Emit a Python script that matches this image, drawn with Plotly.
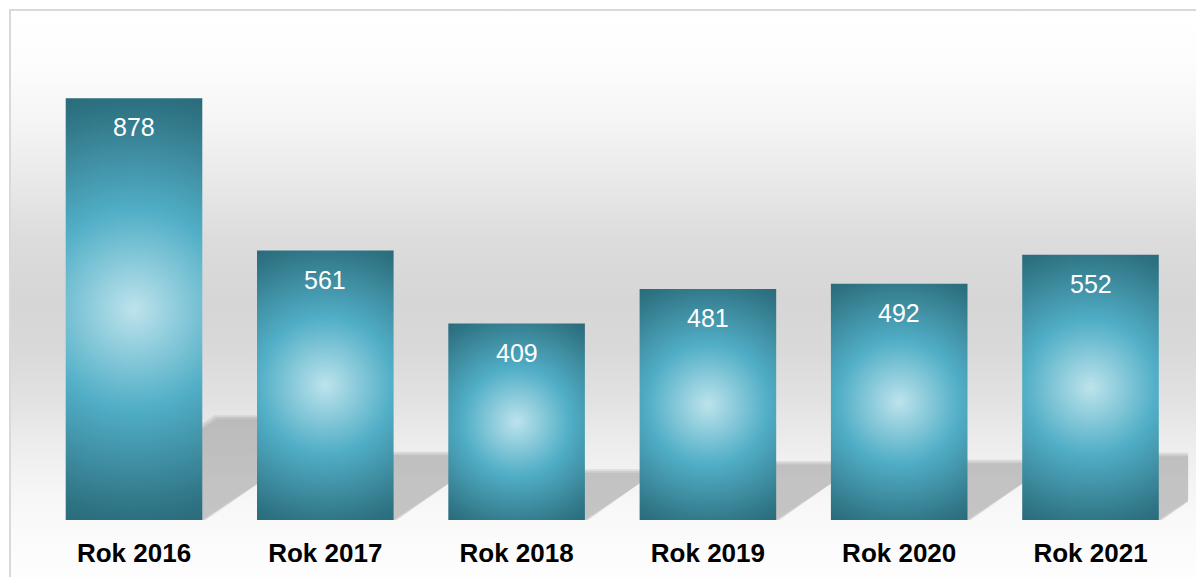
import math
import plotly.graph_objects as go

# ---------------- data ----------------
categories = ["Rok 2016", "Rok 2017", "Rok 2018", "Rok 2019", "Rok 2020", "Rok 2021"]
values = [878, 561, 409, 481, 492, 552]

# ---------------- layout constants (page pixels) ----------------
PAGE_W, PAGE_H = 1204, 577
BODY = 8                        # default page margin around the figure
PL, PT = 11, 11                 # plot area top-left on the page (inside frame)
PLOT_W, PLOT_H = PAGE_W - PL, PAGE_H - PT
W, H = PAGE_W - BODY, PAGE_H - BODY
ML, MT = PL - BODY, PT - BODY
PX_PER_CAT = 191.3              # pixels per category step
PX_PER_UNIT = 0.4803            # pixels per value unit
FIRST_CENTER = 134 - PL         # first category centre from plot left (px)
BASE = 520 - PT                 # value 0 from plot top (px)
BAR_W = 0.714                   # bar width in category units
FONT = "Liberation Sans, Arial, sans-serif"

x0 = -FIRST_CENTER / PX_PER_CAT
x1 = x0 + PLOT_W / PX_PER_CAT
y1 = BASE / PX_PER_UNIT
y0 = y1 - PLOT_H / PX_PER_UNIT
CLIP_X = 5.51                   # right edge of the original plot area

bg_stops = [(11, '#ffffff'), (60, '#fdfdfd'), (120, '#f5f5f5'), (180, '#e9e9e9'),
            (240, '#dcdcdc'), (300, '#d6d6d6'), (350, '#d9d9d9'), (400, '#e2e2e2'),
            (450, '#eeeeee'), (500, '#f7f7f7'), (540, '#fbfbfb'), (577, '#fdfdfd')]
bar_scale = [[0.0, '#bde3ec'], [0.45, '#50aec6'], [0.7, '#3f8ea2'],
             [0.9, '#2f7585'], [1.0, '#2a6b7b']]


def px_x(px):
    return (px - PL) / PLOT_W


def px_y(py):
    return (PAGE_H - py) / PLOT_H


fig = go.Figure()

# background gradient
bg_cs = sorted([[px_y(py), c] for py, c in bg_stops])
bg_cs[0][0] = 0.0
bg_cs[-1][0] = 1.0
fig.add_trace(go.Scatter(
    x=[x0, x1, x1, x0, x0], y=[y0, y0, y1, y1, y0], mode='lines', fill='toself',
    line=dict(width=0, color='rgba(0,0,0,0)'),
    fillgradient=dict(type='vertical', colorscale=bg_cs, start=y0, stop=y1),
    hoverinfo='skip', showlegend=False))


def clip_right(poly, xmax):
    out = []
    n = len(poly)
    for i in range(n):
        a, b = poly[i], poly[(i + 1) % n]
        ain, bin_ = a[0] <= xmax, b[0] <= xmax
        if ain:
            out.append(a)
        if ain != bin_:
            t = (xmax - a[0]) / (b[0] - a[0])
            out.append((xmax, a[1] + t * (b[1] - a[1])))
    return out


# shadows (perspective, blurred with stacked translucent layers)
for i, v in enumerate(values):
    xl, xr = i - BAR_W / 2, i + BAR_W / 2
    hpx = v * PX_PER_UNIT
    dx = 0.36 * hpx / PX_PER_CAT
    dy = 0.24 * v
    for k in (3.5, 1.8, 0.0):
        kx = k / PX_PER_CAT
        ky = k / PX_PER_UNIT
        poly = [(xl, 0), (xr + kx, 0), (xr + dx + kx, dy + ky), (xl + dx - kx, dy + ky)]
        poly = clip_right(poly, CLIP_X)
        xs = [p[0] for p in poly] + [poly[0][0]]
        ys = [p[1] for p in poly] + [poly[0][1]]
        fig.add_trace(go.Scatter(
            x=xs, y=ys, mode='lines', fill='toself',
            line=dict(width=0, color='rgba(0,0,0,0)'),
            fillcolor='rgba(140,140,140,0.19)', hoverinfo='skip', showlegend=False))

# bars with circular radial gradient (zero-area spikes make the bbox square)
for i, v in enumerate(values):
    xl, xr, xc = i - BAR_W / 2, i + BAR_W / 2, i
    yc = v / 2
    wpx = BAR_W * PX_PER_CAT
    hpx = v * PX_PER_UNIT
    R = math.hypot(wpx / 2, hpx / 2)
    rx, ry = R / PX_PER_CAT, R / PX_PER_UNIT
    pts = [(xl, 0), (xl, yc), (xc - rx, yc), (xl, yc), (xl, v), (xc, v), (xc, yc + ry),
           (xc, v), (xr, v), (xr, yc), (xc + rx, yc), (xr, yc), (xr, 0), (xc, 0),
           (xc, yc - ry), (xc, 0), (xl, 0)]
    fig.add_trace(go.Scatter(
        x=[p[0] for p in pts], y=[p[1] for p in pts], mode='lines', fill='toself',
        line=dict(width=0, color='rgba(0,0,0,0)', simplify=False),
        fillgradient=dict(type='radial', colorscale=bar_scale),
        hoverinfo='skip', showlegend=False))

# value labels
for i, v in enumerate(values):
    fig.add_annotation(x=i, y=v, yshift=-29, text=str(v), showarrow=False,
                       yanchor='middle', xanchor='center',
                       font=dict(family=FONT, size=25, color='white'))

# frame (top and left edges visible)
fig.add_shape(type='line', xref='paper', yref='paper', x0=px_x(10), x1=px_x(10),
              y0=px_y(9), y1=px_y(620), line=dict(color='#d9d9d9', width=2))
fig.add_shape(type='line', xref='paper', yref='paper', x0=px_x(9), x1=px_x(1260),
              y0=px_y(10), y1=px_y(10), line=dict(color='#d9d9d9', width=2))

fig.update_layout(
    width=W, height=H,
    margin=dict(l=ML, r=0, t=MT, b=0, pad=0),
    paper_bgcolor='white', plot_bgcolor='white',
    showlegend=False,
    xaxis=dict(range=[x0, x1], tickmode='array', tickvals=list(range(len(categories))),
               ticktext=categories, showgrid=False, zeroline=False, showline=False,
               ticks='', anchor='free', position=px_y(535),
               tickfont=dict(family=FONT, size=26, color='black', weight='bold'),
               fixedrange=True),
    yaxis=dict(range=[y0, y1], visible=False, fixedrange=True),
)

fig.write_html("out.html")
